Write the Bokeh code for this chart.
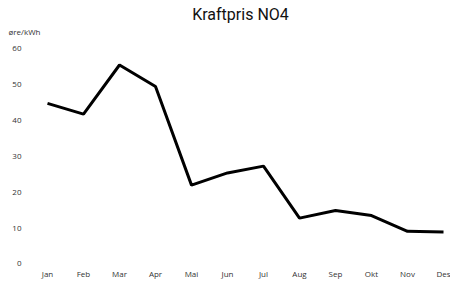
from bokeh.plotting import figure
from bokeh.models import Range1d, FixedTicker, Title, ColumnDataSource
from bokeh.embed import file_html
from bokeh.resources import INLINE

months = ["Jan", "Feb", "Mar", "Apr", "Mai", "Jun", "Jul", "Aug", "Sep", "Okt", "Nov", "Des"]
prices = [44.8, 41.8, 55.5, 49.5, 22.0, 25.4, 27.3, 12.8, 14.9, 13.5, 9.1, 8.9]
y_ticks = [0, 10, 20, 30, 40, 50, 60]
unit_label = "øre/kWh"
title_text = "Kraftpris NO4"

xs = list(range(len(months)))
src = ColumnDataSource(dict(x=xs, y=prices))

p = figure(width=450, height=281, output_backend="svg", toolbar_location=None,
           x_range=Range1d(-0.472, 11.194), y_range=Range1d(-0.42, 63.45),
           min_border_left=30, min_border_right=0, min_border_top=36, min_border_bottom=15)

unit_title = Title(text=unit_label, align="left", offset=-22, standoff=0, text_font="Open Sans",
                   text_font_size="8px", text_font_style="normal", text_color="#333333")
p.add_layout(unit_title, "above")

p.title.text = title_text
p.title.align = "center"
p.title.standoff = 0
p.title.text_font = "Roboto"
p.title.text_font_style = "normal"
p.title.text_font_size = "16px"
p.title.text_color = "#111111"

p.line("x", "y", source=src, line_color="black", line_width=3)

p.xgrid.visible = False
p.ygrid.visible = False
p.outline_line_color = None

for ax in (p.xaxis[0], p.yaxis[0]):
    ax.axis_line_color = None
    ax.major_tick_line_color = None
    ax.minor_tick_line_color = None
    ax.major_tick_out = 0
    ax.major_tick_in = 0
    ax.minor_tick_out = 0
    ax.major_label_text_font = "Open Sans"
    ax.major_label_text_font_size = "8px"
    ax.major_label_text_color = "#333333"

p.xaxis[0].ticker = FixedTicker(ticks=xs)
p.xaxis[0].major_label_overrides = {i: m for i, m in enumerate(months)}
p.xaxis[0].major_label_standoff = 2
p.yaxis[0].ticker = FixedTicker(ticks=y_ticks)
p.yaxis[0].major_label_standoff = 9

open("out.html", "w").write(file_html(p, INLINE))
